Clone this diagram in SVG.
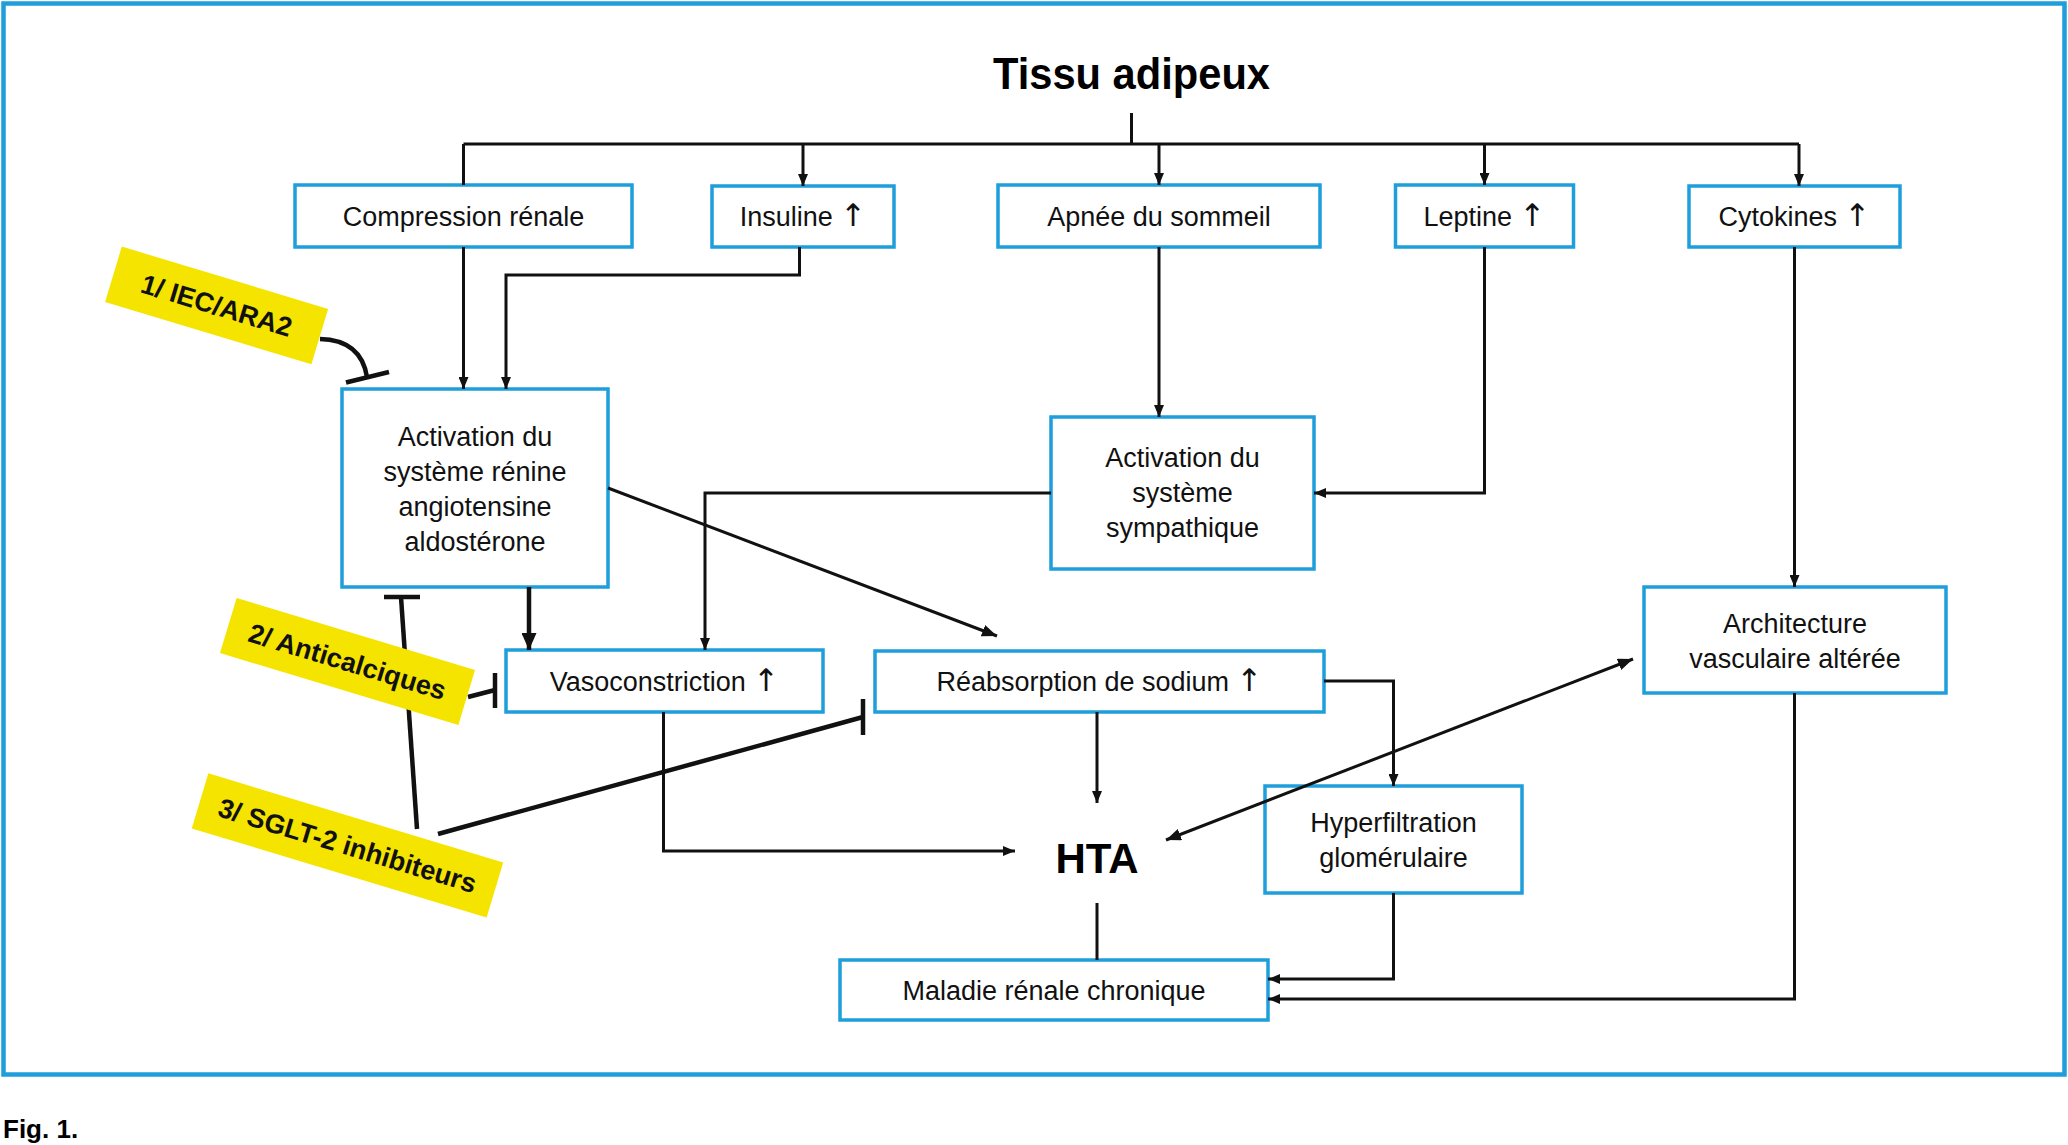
<svg xmlns="http://www.w3.org/2000/svg" width="2068" height="1145" viewBox="0 0 2068 1145">
<defs>
<style>
.box{fill:#fff;stroke:#1e9fdb;stroke-width:3.5}
.t{font-family:"Liberation Sans",Arial,sans-serif;font-size:27px;fill:#111;text-anchor:middle}
.b{font-family:"Liberation Sans",Arial,sans-serif;font-weight:bold;fill:#000;text-anchor:middle}
.cap{font-family:"Liberation Sans",Arial,sans-serif;font-weight:bold;fill:#000;text-anchor:start;font-size:26px}
.ar{font-family:"DejaVu Sans",sans-serif;font-size:31px}
.ln{fill:none;stroke:#111;stroke-width:3}
.thick{fill:none;stroke:#111;stroke-width:4.5}
.tag{fill:#f4e400}
.tt{font-family:"Liberation Sans",Arial,sans-serif;font-weight:bold;font-size:27px;fill:#111;text-anchor:middle}
</style>
<marker id="ah" viewBox="0 0 12 10" refX="12" refY="5" markerWidth="12" markerHeight="10" markerUnits="userSpaceOnUse" orient="auto-start-reverse">
<path d="M0,0 L12,5 L0,10 Z" fill="#111"/>
</marker>
<marker id="ahb" viewBox="0 0 17 15" refX="17" refY="7.5" markerWidth="17" markerHeight="15" markerUnits="userSpaceOnUse" orient="auto-start-reverse">
<path d="M0,0 L17,7.5 L0,15 Z" fill="#111"/>
</marker>
<marker id="ahm" viewBox="0 0 15 12" refX="15" refY="6" markerWidth="15" markerHeight="12" markerUnits="userSpaceOnUse" orient="auto-start-reverse">
<path d="M0,0 L15,6 L0,12 Z" fill="#111"/>
</marker>
</defs>
<rect x="0" y="0" width="2068" height="1145" fill="#fff"/>
<rect x="3.5" y="3.5" width="2061" height="1071" fill="none" stroke="#1e9fdb" stroke-width="4.5"/>

<g id="title"><text class="b" x="1131.5" y="89" font-size="44" textLength="277" lengthAdjust="spacingAndGlyphs">Tissu adipeux</text></g>

<g id="compression"><rect class="box" x="295" y="185" width="337" height="62"/><text class="t" x="463.5" y="226">Compression rénale</text></g>
<g id="insuline"><rect class="box" x="712" y="186" width="182" height="61"/><text class="t" x="803" y="226">Insuline <tspan class="ar">↑</tspan></text></g>
<g id="apnee"><rect class="box" x="998" y="185" width="322" height="62"/><text class="t" x="1159" y="226">Apnée du sommeil</text></g>
<g id="leptine"><rect class="box" x="1395.5" y="185" width="178" height="62"/><text class="t" x="1484.5" y="226">Leptine <tspan class="ar">↑</tspan></text></g>
<g id="cytokines"><rect class="box" x="1689" y="186" width="211" height="61"/><text class="t" x="1794.5" y="226">Cytokines <tspan class="ar">↑</tspan></text></g>

<g id="raas"><rect class="box" x="342" y="389" width="266" height="198"/>
<text class="t" x="475" y="445.7">Activation du</text>
<text class="t" x="475" y="480.7">système rénine</text>
<text class="t" x="475" y="515.7">angiotensine</text>
<text class="t" x="475" y="550.7">aldostérone</text></g>

<g id="sympathique"><rect class="box" x="1051" y="417" width="263" height="152"/>
<text class="t" x="1182.5" y="467">Activation du</text>
<text class="t" x="1182.5" y="502">système</text>
<text class="t" x="1182.5" y="537">sympathique</text></g>

<g id="vasoconstriction"><rect class="box" x="506" y="650" width="317" height="62"/><text class="t" x="664.5" y="691">Vasoconstriction <tspan class="ar">↑</tspan></text></g>
<g id="reabsorption"><rect class="box" x="875" y="651" width="449" height="61"/><text class="t" x="1099.5" y="691">Réabsorption de sodium <tspan class="ar">↑</tspan></text></g>

<g id="architecture"><rect class="box" x="1644" y="587" width="302" height="106"/>
<text class="t" x="1795" y="632.7">Architecture</text>
<text class="t" x="1795" y="667.7">vasculaire altérée</text></g>

<g id="hyperfiltration"><rect class="box" x="1265" y="786" width="257" height="107"/>
<text class="t" x="1393.5" y="831.7">Hyperfiltration</text>
<text class="t" x="1393.5" y="866.7">glomérulaire</text></g>

<g id="hta"><text class="b" x="1097" y="873" font-size="42">HTA</text></g>

<g id="maladie"><rect class="box" x="840" y="960" width="428" height="60"/><text class="t" x="1054" y="1000">Maladie rénale chronique</text></g>

<g id="connectors">
<path class="ln" d="M1131.5,113 V144"/>
<path class="ln" d="M463.5,144 H1799" stroke-width="3.5"/>
<path class="ln" d="M463.5,144 V185"/>
<path class="ln" d="M803,144 V186" marker-end="url(#ah)"/>
<path class="ln" d="M1159,144 V185" marker-end="url(#ah)"/>
<path class="ln" d="M1484.5,144 V185" marker-end="url(#ah)"/>
<path class="ln" d="M1799,144 V186" marker-end="url(#ah)"/>
<path class="ln" d="M463.5,247 V389" marker-end="url(#ah)"/>
<path class="ln" d="M799.5,247 V275 H506 V389" marker-end="url(#ah)"/>
<path class="ln" d="M1159,247 V417" marker-end="url(#ah)"/>
<path class="ln" d="M1484.5,247 V493 H1314" marker-end="url(#ah)"/>
<path class="ln" d="M1794.5,247 V587" marker-end="url(#ah)"/>
<path class="ln" d="M1051,493 H705 V650" marker-end="url(#ah)"/>
<path class="thick" d="M529,587 V650" marker-end="url(#ahb)"/>
<path class="ln" d="M608,488 L997,636" marker-end="url(#ahm)"/>
<path class="ln" d="M1324,681 H1393.5 V786" marker-end="url(#ah)"/>
<path class="ln" d="M1097,712 V803" marker-end="url(#ah)"/>
<path class="ln" d="M663.5,712 V851 H1015" marker-end="url(#ah)"/>
<path class="ln" d="M1166,840 L1633,659" marker-start="url(#ahm)" marker-end="url(#ahm)"/>
<path class="ln" d="M1097,903 V960"/>
<path class="ln" d="M1393.5,893 V979 H1268" marker-end="url(#ah)"/>
<path class="ln" d="M1794.5,693 V999 H1268" marker-end="url(#ah)"/>
<path class="thick" d="M320,339 Q361,340 367,377"/>
<path class="thick" d="M346,382.5 L389,372"/>
<path class="thick" d="M417,829 L401,597"/>
<path class="thick" d="M384,597 H420"/>
<path class="thick" d="M468,697 L495,690"/>
<path class="thick" d="M495,673 V708"/>
<path class="thick" d="M438,834 L863,717" stroke-width="5"/>
<path class="thick" d="M863,699 V735"/>
</g>

<g id="tag-iec" transform="translate(216.6,305.4) rotate(16.8)">
<rect class="tag" x="-107.75" y="-28.9" width="215.5" height="57.8"/>
<text class="tt" x="0" y="9.5">1/ IEC/ARA2</text></g>
<g id="tag-anticalciques" transform="translate(347.5,661.5) rotate(16.8)">
<rect class="tag" x="-124.5" y="-28.75" width="249" height="57.5"/>
<text class="tt" x="0" y="9.5">2/ Anticalciques</text></g>
<g id="tag-sglt2" transform="translate(347.5,845.4) rotate(16.8)">
<rect class="tag" x="-154" y="-28.75" width="308" height="57.5"/>
<text class="tt" x="0" y="9.5">3/ SGLT-2 inhibiteurs</text></g>

<g id="caption"><text class="cap" x="3" y="1138">Fig. 1.</text></g>
</svg>
